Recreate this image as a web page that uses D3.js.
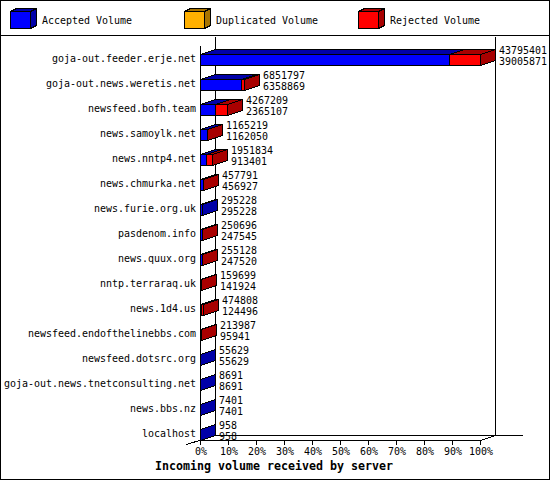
<!DOCTYPE html>
<html>
<head>
<meta charset="utf-8">
<script src="https://cdn.jsdelivr.net/npm/d3@7"></script>
<style>
  body { margin: 0; background: #fff; }
  text { font-family: "DejaVu Sans Mono", monospace; font-size: 11px; fill: #000; }
  text.val { font-size: 10px; }
</style>
</head>
<body>
<div id="chart"></div>
<script>
// Server names, top to bottom
const servers = [
  "goja-out.feeder.erje.net", "goja-out.news.weretis.net", "newsfeed.bofh.team",
  "news.samoylk.net", "news.nntp4.net", "news.chmurka.net", "news.furie.org.uk",
  "pasdenom.info", "news.quux.org", "nntp.terraraq.uk", "news.1d4.us",
  "newsfeed.endofthelinebbs.com", "newsfeed.dotsrc.org",
  "goja-out.news.tnetconsulting.net", "news.bbs.nz", "localhost"
];
// Total incoming volume (first label) and accepted volume (second label)
const totalVolume = [43795401, 6851797, 4267209, 1165219, 1951834, 457791, 295228,
  250696, 255128, 159699, 474808, 213987, 55629, 8691, 7401, 958];
const acceptedVolume = [39005871, 6358869, 2365107, 1162050, 913401, 456927, 295228,
  247545, 247520, 141924, 124496, 95941, 55629, 8691, 7401, 958];
const duplicatedVolume = [0, 0, 0, 0, 0, 0, 0, 0, 0, 0, 0, 0, 0, 0, 0, 0];
const tickLabels = ["0%", "10%", "20%", "30%", "40%", "50%", "60%", "70%", "80%", "90%", "100%"];
const legendNames = ["Accepted Volume", "Duplicated Volume", "Rejected Volume"];

const W = 550, H = 480;
const CW = 6;            // width of one character of the bitmap-like font
const dx = 15, dy = 5;   // 3d depth offset
const x0 = 200, x1 = 480, floorY = 440, topY = 36;
const barH = 11;

const colors = [
  { front: "#0000ff", dark: "#0000a8" },
  { front: "#ffb000", dark: "#a87400" },
  { front: "#ff0000", dark: "#a80000" }
];

const svg = d3.select("#chart").append("svg")
  .attr("width", W).attr("height", H)
  .attr("shape-rendering", "crispEdges");

// fixed-width text helper
function label(g, x, y, str, anchor, cw) {
  return g.append("text")
    .attr("x", x).attr("y", y)
    .attr("text-anchor", anchor || "start")
    .attr("textLength", str.length * (cw || CW))
    .attr("lengthAdjust", "spacingAndGlyphs")
    .text(str);
}

function line(xa, ya, xb, yb) {
  svg.append("line")
    .attr("x1", xa + 0.5).attr("y1", ya + 0.5)
    .attr("x2", xb + 0.5).attr("y2", yb + 0.5)
    .attr("stroke", "#000");
}

// draw a 3d box: front face, top face and right side face
function box(g, xa, xb, yt, yb, c, d) {
  const stroke = "#000";
  g.append("polygon")
    .attr("points", [[xa, yt], [xa + d[0], yt - d[1]], [xb + d[0], yt - d[1]], [xb, yt]].join(" "))
    .attr("fill", c.dark).attr("stroke", stroke);
  g.append("polygon")
    .attr("points", [[xb, yt], [xb + d[0], yt - d[1]], [xb + d[0], yb - d[1]], [xb, yb]].join(" "))
    .attr("fill", c.dark).attr("stroke", stroke);
  g.append("rect")
    .attr("x", xa).attr("y", yt)
    .attr("width", xb - xa).attr("height", yb - yt)
    .attr("fill", c.front).attr("stroke", stroke);
}

// outer frame and legend separator
svg.append("rect").attr("x", 0.5).attr("y", 0.5).attr("width", W - 1).attr("height", H - 1)
  .attr("fill", "none").attr("stroke", "#000");
line(0, 35, W, 35);

// legend
const legend = svg.append("g");
legendNames.forEach((name, i) => {
  const lx = 10 + i * 174;
  box(legend, lx + 0.5, lx + 20.5, 11.5, 28.5, colors[i], [6, 3]);
  label(legend, lx + 32, 24, name);
});

// scales
const maxTotal = d3.max(totalVolume);
const x = d3.scaleLinear().domain([0, maxTotal]).range([x0, x1]);
const y = d3.scaleBand().domain(servers).range([47, 447]);
const pct = d3.scaleLinear().domain([0, 100]).range([x0, x1]);

// walls and floor
line(x0 + dx, topY, x0 + dx, floorY - dy);
line(x1 + dx, topY, x1 + dx, floorY - dy);
line(x0 + dx, floorY - dy, 522, floorY - dy);
line(x0, floorY, x1, floorY);
line(x0 + dx, floorY - dy, x0 - 14, floorY + 4);
line(x1, floorY, x1 + dx, floorY - dy);
line(x0, 45, x0, floorY + 4);

// ticks
tickLabels.forEach((t, i) => {
  const tx = Math.round(pct(i * 10));
  line(tx, floorY, tx, floorY + 4);
  label(svg, tx + 1, 455, t, "middle");
});

// bars
const bars = svg.append("g");
servers.forEach((s, i) => {
  const cy = y(s) + y.bandwidth() / 2;
  const yt = Math.round(cy - barH / 2) + 0.5, yb = yt + barH;
  const segs = [acceptedVolume[i], duplicatedVolume[i], totalVolume[i] - acceptedVolume[i] - duplicatedVolume[i]];
  let acc = 0;
  segs.forEach((v, k) => {
    if (v <= 0) return;
    const xa = Math.round(x(acc)) + 0.5;
    acc += v;
    const xb = Math.round(x(acc)) + 0.5;
    box(bars, xa, xb, yt, yb, colors[k], [dx, dy]);
  });
  const lx = Math.round(x(totalVolume[i])) + dx + 4;
  label(svg, lx, cy - 5.5, String(totalVolume[i])).attr("class", "val");
  label(svg, lx, cy + 5.5, String(acceptedVolume[i])).attr("class", "val");
  label(svg, 196, cy + 2, s, "end");
});

// axis title
svg.append("text")
  .attr("x", 274).attr("y", 470)
  .attr("text-anchor", "middle")
  .attr("font-weight", "bold")
  .style("font-size", "12px")
  .attr("textLength", 238)
  .attr("lengthAdjust", "spacingAndGlyphs")
  .text("Incoming volume received by server");
</script>
</body>
</html>
